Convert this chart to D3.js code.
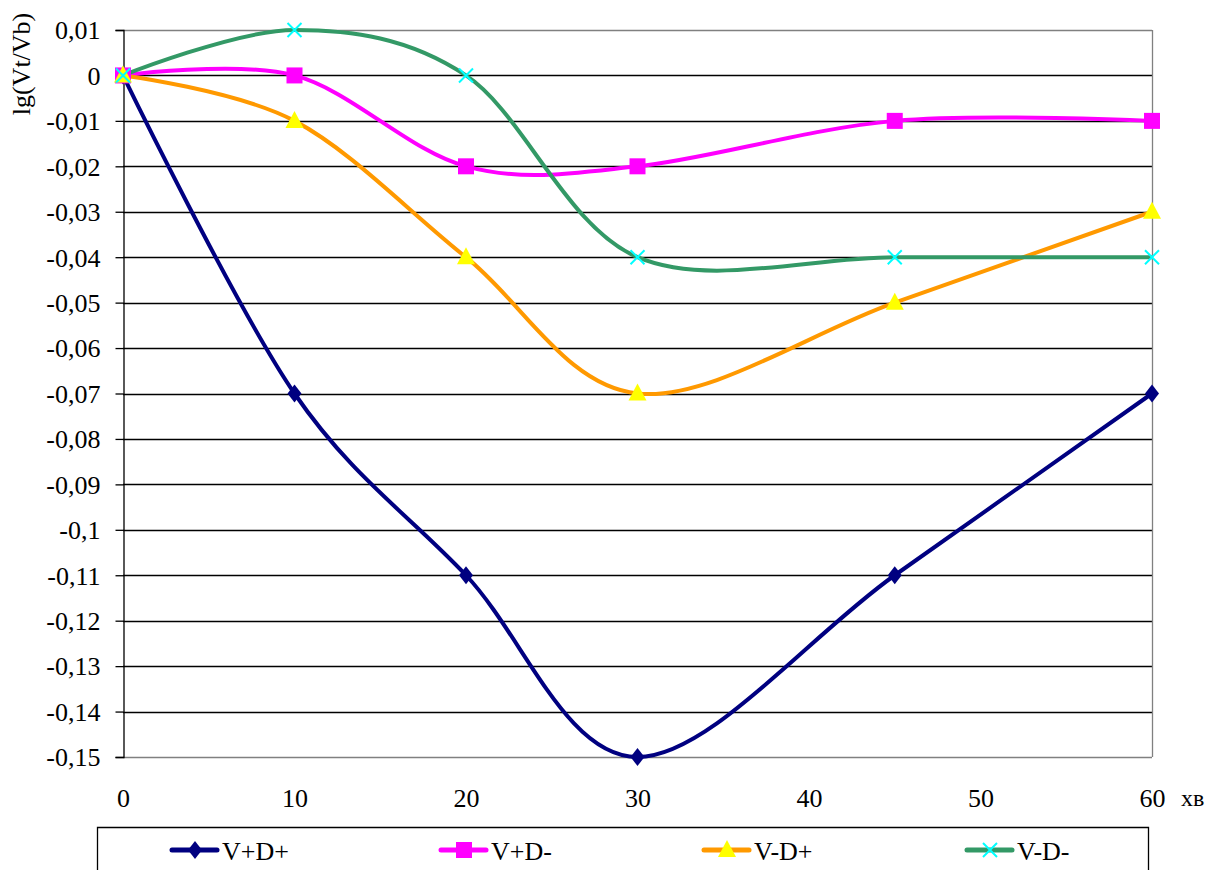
<!DOCTYPE html>
<html>
<head>
<meta charset="utf-8">
<script src="https://cdn.jsdelivr.net/npm/d3@7"></script>
<style>
  body { margin: 0; background: #fff; }
  svg text { font-family: "Liberation Serif", "Times New Roman", "DejaVu Serif", serif; fill: #000; }
</style>
</head>
<body>
<div id="chart"></div>
<script>
// Time points (minutes) and series values.
const minutes = [0, 10, 20, 30, 45, 60];
const vPlusDPlus = [0, -0.07, -0.11, -0.15, -0.11, -0.07];
const vPlusDMinus = [0, 0, -0.02, -0.02, -0.01, -0.01];
const vMinusDPlus = [0, -0.01, -0.04, -0.07, -0.05, -0.03];
const vMinusDMinus = [0, 0.01, 0, -0.04, -0.04, -0.04];
const seriesNames = ['V+D+', 'V+D-', 'V-D+', 'V-D-'];
const xTicks = [0, 10, 20, 30, 40, 50, 60];
const yTicks = d3.range(1, -16, -1).map(d => d / 100);

const width = 1225,
  height = 870;

// Plot area in pixels.
const plot = { left: 123, right: 1152, top: 30, bottom: 757 };

const svg = d3
  .select('#chart')
  .append('svg')
  .attr('width', width)
  .attr('height', height)
  .style('display', 'block');

const x = d3.scaleLinear().domain([0, 60]).range([plot.left, plot.right]);
const y = d3.scaleLinear().domain([-0.15, 0.01]).range([plot.bottom, plot.top]);

const series = [
  { name: seriesNames[0], values: vPlusDPlus, line: '#000080', marker: 'diamond', fill: '#000080' },
  { name: seriesNames[1], values: vPlusDMinus, line: '#ff00ff', marker: 'square', fill: '#ff00ff' },
  { name: seriesNames[2], values: vMinusDPlus, line: '#ff9900', marker: 'triangle', fill: '#ffff00' },
  { name: seriesNames[3], values: vMinusDMinus, line: '#339966', marker: 'cross', fill: '#00ffff' },
];

const fmt = v => {
  const r = Math.round(v * 100) / 100;
  return (r === 0 ? '0' : String(r)).replace('.', ',');
};

// Horizontal grid lines
svg
  .append('g')
  .selectAll('line')
  .data(yTicks)
  .join('line')
  .attr('x1', plot.left)
  .attr('x2', plot.right)
  .attr('y1', d => Math.round(y(d)) + 0.5)
  .attr('y2', d => Math.round(y(d)) + 0.5)
  .attr('stroke', (d, i) => (i === 0 || i === yTicks.length - 1 ? '#808080' : '#000'))
  .attr('stroke-width', 1.3);

// Plot area border (right side)
svg
  .append('line')
  .attr('x1', plot.right + 0.5)
  .attr('x2', plot.right + 0.5)
  .attr('y1', plot.top)
  .attr('y2', plot.bottom)
  .attr('stroke', '#808080')
  .attr('stroke-width', 1.3);

// Y axis with ticks on the left
const yAxis = d3
  .axisLeft(y)
  .tickValues(yTicks)
  .tickSize(8)
  .tickPadding(15)
  .tickFormat(fmt);

const gy = svg
  .append('g')
  .attr('transform', 'translate(' + (plot.left + 0.5) + ',0)')
  .call(yAxis)
  .attr('font-family', null)
  .attr('font-size', null);
gy.select('.domain').attr('stroke', '#000').attr('stroke-width', 1.3);
gy.selectAll('.tick line').attr('stroke', '#000').attr('stroke-width', 1.3);
gy.selectAll('.tick text').style('font-size', '26px').attr('dy', '0.34em');

// X axis labels (no tick marks)
const xAxis = d3
  .axisBottom(x)
  .tickValues(xTicks)
  .tickSize(0)
  .tickPadding(32);

const gx = svg
  .append('g')
  .attr('transform', 'translate(0,' + plot.bottom + ')')
  .call(xAxis)
  .attr('font-family', null)
  .attr('font-size', null);
gx.select('.domain').remove();
gx.selectAll('.tick text').style('font-size', '26px').attr('dy', '0.71em');

// Axis titles
svg
  .append('text')
  .attr('transform', 'translate(30,64) rotate(-90)')
  .attr('text-anchor', 'middle')
  .style('font-size', '26px')
  .text('lg(Vt/Vb)');

svg
  .append('text')
  .attr('x', 1181)
  .attr('y', 806)
  .style('font-size', '24px')
  .text('хв');

// Smoothed lines, like Excel's smoothing
const line = d3
  .line()
  .x(d => x(d[0]))
  .y(d => y(d[1]))
  .curve(d3.curveCardinal.tension(0));

const linesG = svg.append('g');
series.forEach(s => {
  const pts = minutes.map((m, i) => [m, s.values[i]]);
  linesG
    .append('path')
    .attr('d', line(pts))
    .attr('fill', 'none')
    .attr('stroke', s.line)
    .attr('stroke-width', 4)
    .attr('stroke-linejoin', 'round');
});

// Marker drawer
function drawMarker(g, type, cx, cy, fill) {
  if (type === 'diamond') {
    g.append('path')
      .attr('d', `M${cx},${cy - 9}L${cx + 7},${cy}L${cx},${cy + 9}L${cx - 7},${cy}Z`)
      .attr('fill', fill);
  } else if (type === 'square') {
    const r = 8;
    g.append('rect')
      .attr('x', cx - r)
      .attr('y', cy - r)
      .attr('width', 2 * r)
      .attr('height', 2 * r)
      .attr('fill', fill);
  } else if (type === 'triangle') {
    g.append('path')
      .attr('d', `M${cx},${cy - 10}L${cx + 9},${cy + 7}L${cx - 9},${cy + 7}Z`)
      .attr('fill', fill);
  } else {
    const r = 7;
    g.append('path')
      .attr('d', `M${cx - r},${cy - r}L${cx + r},${cy + r}M${cx - r},${cy + r}L${cx + r},${cy - r}`)
      .attr('stroke', fill)
      .attr('stroke-width', 2)
      .attr('fill', 'none');
  }
}

const markersG = svg.append('g');
series.forEach(s => {
  minutes.forEach((m, i) => {
    drawMarker(markersG, s.marker, x(m), y(s.values[i]), s.fill);
  });
});

// Legend box
const legend = { left: 97, right: 1148, top: 827 };
svg
  .append('path')
  .attr('d', `M${legend.left + 0.5},${height + 2}V${legend.top + 0.5}H${legend.right + 0.5}V${height + 2}`)
  .attr('fill', 'none')
  .attr('stroke', '#000')
  .attr('stroke-width', 1.3);

const legendX = [172, 441, 704, 967];
const legendY = 850;
series.forEach((s, i) => {
  const g = svg.append('g');
  const lx = legendX[i];
  g.append('line')
    .attr('x1', lx)
    .attr('x2', lx + 45)
    .attr('y1', legendY)
    .attr('y2', legendY)
    .attr('stroke', s.line)
    .attr('stroke-width', 5)
    .attr('stroke-linecap', 'round');
  drawMarker(g, s.marker, lx + 23, legendY, s.fill);
  g.append('text')
    .attr('x', lx + 50)
    .attr('y', legendY + 10)
    .style('font-size', '26px')
    .text(s.name);
});
</script>
</body>
</html>
